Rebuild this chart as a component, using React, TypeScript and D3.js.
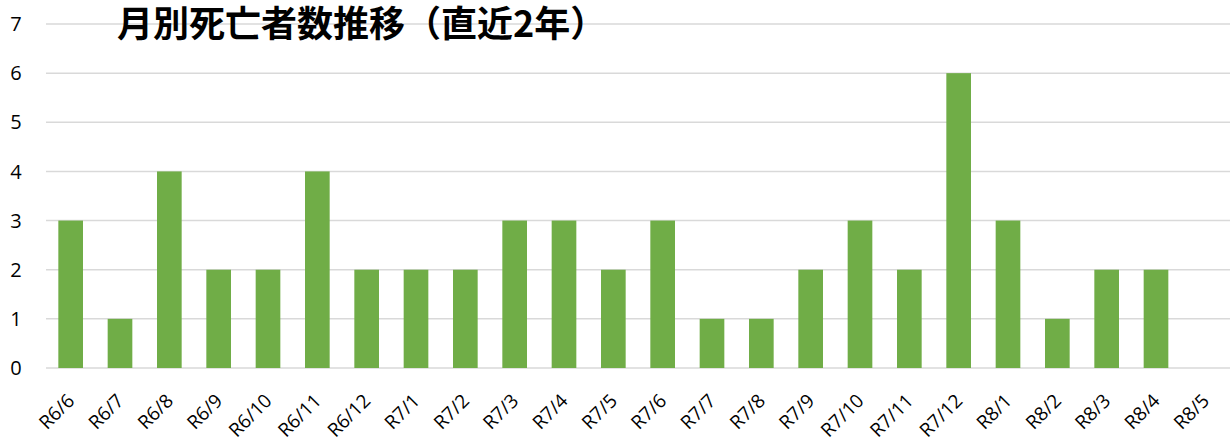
import React from "react";
import * as d3 from "d3";

const categories = [
  "R6/6", "R6/7", "R6/8", "R6/9", "R6/10", "R6/11", "R6/12",
  "R7/1", "R7/2", "R7/3", "R7/4", "R7/5", "R7/6", "R7/7", "R7/8",
  "R7/9", "R7/10", "R7/11", "R7/12", "R8/1", "R8/2", "R8/3", "R8/4", "R8/5",
];
const deaths = [3, 1, 4, 2, 2, 4, 2, 2, 2, 3, 3, 2, 3, 1, 1, 2, 3, 2, 6, 3, 1, 2, 2, 0];
const yTicks = [0, 1, 2, 3, 4, 5, 6, 7];
const title = "月別死亡者数推移（直近2年）";

const W = 1231;
const H = 443;
const left = 46;
const right = 1230;
const top = 24;
const bottom = 368;
const font = "'Open Sans', 'Noto Sans', sans-serif";

export default function App() {
  const x = d3.scaleBand<string>().domain(categories).range([left, right]).paddingInner(0.5).paddingOuter(0.25);
  const y = d3.scaleLinear().domain([0, 7]).range([bottom, top]);

  return (
    <svg width={W} height={H} style={{ position: "absolute", left: 0, top: 0, background: "#fff" }}>
      {yTicks.map((t) => (
        <g key={t}>
          <line x1={left} x2={right} y1={y(t)} y2={y(t)} stroke="#d9d9d9" strokeWidth={1.5} />
          <text x={16} y={y(t)} dy="0.36em" textAnchor="middle" fontFamily={font} fontSize={20} fill="#000">
            {t}
          </text>
        </g>
      ))}
      {categories.map((c, i) => (
        <rect
          key={c}
          x={x(c)}
          y={y(deaths[i])}
          width={x.bandwidth()}
          height={bottom - y(deaths[i])}
          fill="#70ad47"
        />
      ))}
      {categories.map((c) => {
        const cx = (x(c) as number) + x.bandwidth() / 2 + 5;
        const cy = 402;
        return (
          <text
            key={c}
            x={cx}
            y={cy}
            textAnchor="end"
            fontFamily={font}
            fontSize={19}
            fill="#000"
            transform={`rotate(-45, ${cx}, ${cy})`}
          >
            {c}
          </text>
        );
      })}
      <text x={117} y={37} fontFamily="'Noto Sans CJK JP', sans-serif" fontWeight="bold" fontSize={36} fill="#000">
        {title}
      </text>
    </svg>
  );
}
